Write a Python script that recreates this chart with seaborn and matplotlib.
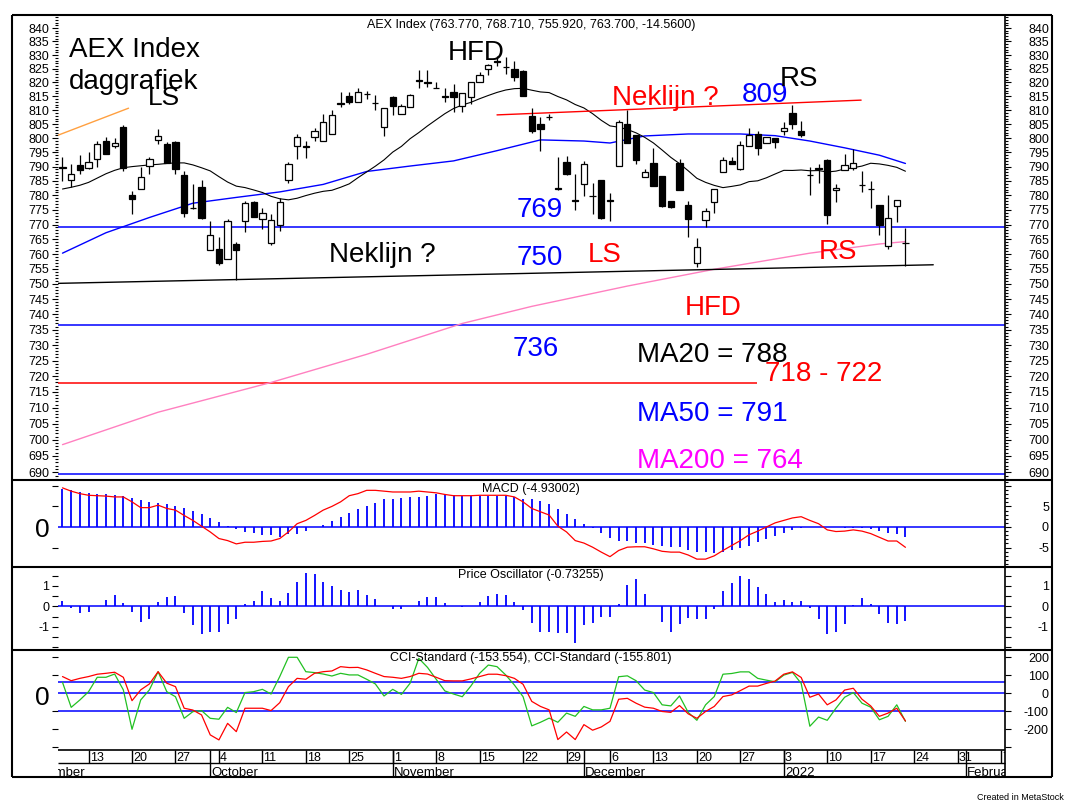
import numpy as np
import pandas as pd
import matplotlib
matplotlib.use("Agg")
import matplotlib.pyplot as plt
import seaborn as sns
from matplotlib.lines import Line2D
from matplotlib.ticker import FixedLocator, FixedFormatter, NullFormatter

# ---------------------------------------------------------------- data
dates = pd.bdate_range("2021-09-08", "2022-01-21")   # 98 trading days

opens = [790.0, 785.3, 790.6, 789.4, 792.6, 799.0, 797.1, 803.9, 780.0, 782.1,
         790.2, 799.4, 797.9, 798.7, 787.1, 775.8, 782.9, 761.5, 761.7, 758.3,
         763.3, 771.2, 777.6, 771.8, 763.7, 769.7, 785.2, 797.1, 797.2, 800.3,
         799.0, 801.5, 812.4, 815.2, 813.0, 815.9, 812.6, 803.9, 814.9, 808.5,
         811.0, 820.8, 820.0, 818.0, 815.1, 816.7, 811.6, 814.9, 820.3, 825.0,
         828.0, 825.8, 824.8, 824.2, 807.9, 805.0, 807.5, 782.5, 791.6, 778.4,
         783.8, 779.9, 785.2, 778.4, 790.2, 805.0, 801.0, 786.4, 791.4, 786.7,
         778.2, 791.1, 776.6, 757.0, 771.5, 777.6, 788.0, 791.8, 789.0, 797.3,
         801.5, 798.2, 800.0, 802.7, 809.0, 802.7, 787.2, 789.5, 792.2, 781.8,
         788.9, 789.6, 783.7, 782.3, 776.7, 762.6, 776.4, 763.77]
highs = [793.3, 791.0, 794.2, 795.3, 799.0, 800.6, 800.0, 804.8, 781.5, 790.0,
         793.3, 803.3, 798.5, 798.9, 788.4, 784.0, 785.3, 771.2, 765.8, 771.8,
         764.1, 778.2, 778.2, 775.8, 773.6, 779.0, 791.6, 801.5, 799.0, 803.5,
         808.7, 810.0, 816.4, 816.6, 817.8, 817.0, 815.5, 810.6, 815.0, 812.2,
         815.8, 824.5, 824.5, 820.3, 817.9, 819.5, 816.0, 820.1, 823.8, 826.9,
         829.6, 829.2, 827.8, 824.5, 810.6, 807.7, 808.7, 793.2, 793.8, 787.3,
         792.1, 784.4, 785.5, 780.8, 806.4, 810.0, 801.0, 789.0, 796.6, 786.7,
         778.2, 792.6, 778.2, 765.4, 775.8, 782.3, 793.5, 793.5, 799.0, 803.5,
         802.7, 800.6, 800.0, 805.7, 811.9, 806.1, 789.8, 790.9, 792.6, 784.1,
         794.4, 796.2, 788.4, 785.0, 776.7, 780.0, 778.4, 768.71]
lows = [785.0, 782.9, 787.3, 789.0, 790.0, 794.5, 796.5, 788.4, 773.6, 782.1,
        787.3, 798.1, 791.2, 787.3, 772.7, 775.4, 772.0, 761.5, 756.3, 758.3,
        751.3, 767.6, 772.4, 768.4, 763.2, 767.8, 784.4, 792.6, 793.0, 799.0,
        799.0, 801.5, 811.0, 812.2, 813.0, 814.0, 810.2, 800.9, 808.2, 808.5,
        811.0, 817.9, 818.3, 817.9, 812.8, 809.2, 809.2, 812.2, 820.3, 822.6,
        826.0, 823.2, 820.7, 815.2, 801.7, 795.6, 806.5, 782.0, 787.0, 774.8,
        779.7, 773.6, 772.0, 771.2, 790.2, 798.2, 791.0, 786.4, 783.2, 776.0,
        775.8, 782.0, 765.8, 755.5, 769.0, 773.9, 788.0, 790.8, 788.7, 797.3,
        794.0, 798.2, 796.6, 801.3, 803.3, 800.3, 780.2, 784.4, 770.3, 777.6,
        788.7, 788.7, 781.3, 775.8, 766.4, 761.8, 771.0, 755.92]
closes = [789.5, 787.3, 788.8, 791.5, 797.9, 794.5, 798.2, 789.6, 778.6, 786.4,
          792.6, 800.9, 791.4, 789.0, 773.8, 775.6, 772.1, 766.4, 757.0, 771.2,
          761.2, 777.3, 772.4, 773.9, 771.4, 777.6, 790.9, 800.6, 797.0, 802.7,
          805.7, 808.1, 812.2, 812.8, 816.4, 815.8, 812.4, 810.6, 811.6, 811.6,
          815.5, 820.6, 819.8, 817.9, 814.9, 814.6, 816.0, 820.1, 822.8, 826.3,
          827.6, 825.6, 822.0, 815.2, 802.7, 803.3, 807.7, 782.3, 787.3, 778.2,
          790.8, 779.7, 772.1, 778.2, 805.7, 798.2, 792.2, 788.0, 783.2, 776.4,
          776.0, 782.0, 771.8, 762.5, 774.6, 782.3, 792.2, 790.8, 797.6, 801.0,
          796.5, 800.6, 798.6, 803.7, 805.0, 801.3, 787.0, 789.3, 773.2, 782.5,
          790.6, 791.1, 783.5, 782.1, 769.9, 772.2, 778.4, 763.70]

# MA20 before enough history is shown, rest is computed
ma20_early = [782.2, 782.8, 783.5, 784.5, 786.0, 787.5, 788.7, 789.6, 790.0, 790.3,
              790.6, 790.8, 791.1, 791.3, 791.3, 790.6, 789.6, 788.5, 786.5]
ma50_idx = [0, 5, 10, 15, 20, 25, 30, 35, 40, 45, 50, 55, 60, 63, 67, 72, 78, 82, 86, 90, 94, 97]
ma50_val = [760.3, 767.2, 772.4, 777.3, 779.3, 781.2, 783.8, 788.3, 790.2, 792.0, 795.6,
            799.4, 799.0, 798.3, 800.8, 801.5, 801.5, 800.9, 799.0, 796.6, 794.0, 791.1]
ma200_idx = [0, 11, 24, 35, 46, 54, 65, 75, 86, 94, 97]
ma200_val = [698.5, 708.6, 718.0, 727.0, 737.0, 742.6, 749.3, 754.9, 760.3, 763.4, 764.2]

# drawn lines on the price chart
level_blue = [769.3, 736.6, 689.4]
level_red = 717.9
level_red_end = 79.9
neck_black_x, neck_black_y = [-0.58, 100.2], [750.2, 756.4]
neck_red_x, neck_red_y = [50.0, 91.9], [808.3, 813.6]
trend_orange_x, trend_orange_y = [-0.48, 7.6], [801.1, 810.7]

macd_line = [9.5, 8.7, 8.1, 7.7, 7.6, 7.5, 7.3, 7.3, 6.1, 4.7, 4.7, 5.3, 4.5, 4.1, 2.8,
             1.6, 0.2, -1.2, -2.8, -3.3, -4.1, -3.7, -3.7, -3.5, -3.4, -2.8, -1.2, 0.8,
             1.6, 2.8, 4.1, 5.0, 6.1, 7.6, 8.1, 8.9, 8.9, 8.7, 8.5, 8.5, 8.5, 8.7, 8.5,
             8.3, 7.9, 7.6, 7.6, 7.6, 7.7, 7.7, 7.7, 7.7, 7.3, 6.1, 4.5, 3.7, 2.9, 0.2,
             -1.2, -3.3, -3.9, -4.9, -6.1, -7.2, -5.7, -4.9, -4.8, -4.8, -5.3, -5.9,
             -6.1, -6.1, -6.8, -7.8, -7.8, -7.0, -5.7, -4.5, -3.3, -1.9, -1.0, 0.0, 1.0,
             1.6, 2.2, 2.5, 1.6, 0.8, -0.7, -1.1, -1.0, -0.7, -1.0, -1.6, -2.5, -3.4,
             -3.4, -4.93]
macd_bars = [9.2, 9.0, 8.5, 8.2, 8.0, 8.0, 7.8, 7.6, 7.1, 6.5, 6.1, 5.8, 5.5, 5.1, 4.6,
             3.8, 3.2, 2.2, 1.2, 0.2, -0.4, -1.2, -1.5, -1.9, -2.0, -2.4, -1.8, -1.6,
             -1.0, 0.0, 0.4, 1.4, 2.5, 3.4, 4.4, 5.0, 5.9, 6.7, 6.9, 7.1, 7.3, 7.3, 7.6,
             7.9, 7.9, 7.7, 7.6, 7.5, 7.6, 7.6, 7.6, 7.6, 7.2, 6.8, 6.8, 6.3, 5.6, 4.3,
             3.1, 1.9, 0.7, -0.2, -1.5, -2.7, -3.3, -3.5, -3.8, -3.8, -4.3, -4.6, -4.8,
             -4.9, -5.5, -6.0, -6.1, -6.3, -6.0, -5.7, -5.2, -4.5, -3.7, -3.0, -2.2,
             -1.5, -0.8, -0.2, 0.0, 0.0, 0.0, 0.0, -0.2, -0.2, -0.3, -0.6, -1.0, -1.5,
             -1.6, -2.5]
price_osc = [0.26, -0.1, -0.34, -0.26, 0.0, 0.3, 0.55, 0.16, -0.26, -0.75, -0.6, 0.23,
             0.46, 0.5, -0.31, -0.93, -1.37, -1.24, -1.24, -0.88, -0.6, 0.11, 0.26, 0.75,
             0.41, 0.26, 0.65, 1.19, 1.63, 1.56, 1.19, 0.99, 0.8, 0.7, 0.8, 0.55, 0.36,
             0.0, -0.15, -0.15, 0.0, 0.26, 0.46, 0.46, 0.16, 0.0, -0.05, 0.0, 0.21, 0.5,
             0.6, 0.55, 0.21, -0.2, -0.84, -1.26, -1.26, -1.3, -1.3, -1.79, -0.93, -0.84,
             -0.5, -0.5, 0.11, 1.05, 1.34, 0.6, 0.0, -0.75, -1.25, -0.89, -0.56, -0.6,
             -0.6, -0.15, 0.75, 1.15, 1.49, 1.34, 0.93, 0.6, 0.21, 0.31, 0.21, 0.26, -0.1,
             -0.64, -1.33, -1.25, -0.89, 0.07, 0.41, 0.11, -0.39, -0.84, -0.89, -0.73]
cci_red = [93, 70, 83, 93, 106, 111, 117, 89, -41, 19, 52, 120, 56, 37, -83, -93, -120,
           -231, -259, -167, -213, -83, -83, -83, -96, -52, 37, 83, 78, 111, 120, 124,
           148, 143, 144, 130, 111, 93, 89, 83, 93, 111, 107, 89, 70, 69, 69, 80, 93, 106,
           106, 98, 83, 50, -45, -73, -92, -257, -215, -257, -174, -205, -187, -156, -33,
           -28, -55, -77, -83, -101, -106, -68, -114, -139, -101, -73, -18, -9, 15, 40,
           40, 55, 68, 106, 119, 88, -22, -4, -64, -37, 18, 28, -33, -70, -128, -110,
           -83, -153.6]
cci_green = [61, -78, -37, 9, 89, 89, 107, 19, -200, -37, 19, 120, 9, -19, -139, -102,
             -96, -139, -144, -78, -107, 4, 9, 22, -4, 93, 200, 200, 120, 115, 107, 96,
             111, 102, 102, 78, 52, -15, 22, -6, 56, 194, 144, 78, 13, -4, -19, 41, 111,
             157, 148, 102, 46, -19, -181, -161, -138, -161, -110, -128, -73, -92, -92,
             -83, 92, 97, 70, 18, 4, -64, -70, -15, -106, -150, -64, -18, 106, 110, 119,
             119, 83, 73, 64, 101, 116, 55, -183, -132, -150, -83, -22, 4, -55, -77, -147,
             -128, -64, -155.8]
cci_levels = [61, 0, -100]

price_title = "AEX Index (763.770, 768.710, 755.920, 763.700, -14.5600)"
macd_title = "MACD (-4.93002)"
po_title = "Price Oscillator (-0.73255)"
cci_title = "CCI-Standard (-153.554), CCI-Standard (-155.801)"

n = len(dates)
for arr in (opens, highs, lows, closes, macd_line, macd_bars, price_osc, cci_red, cci_green):
    assert len(arr) == n, len(arr)

x = np.arange(n)
o, h, l, c = map(np.array, (opens, highs, lows, closes))
ma20 = pd.Series(c).rolling(20).mean().to_numpy()
ma20[:19] = ma20_early

# ---------------------------------------------------------------- style
sns.set_theme(style="white")
plt.rcParams["font.family"] = ["Liberation Sans", "DejaVu Sans"]

W, H = 1069, 808
fig = plt.figure(figsize=(W / 100, H / 100), dpi=100)
fig.patch.set_facecolor("white")

XL, XR = 57.5, 1005.3
XLIM = (-0.575, 108.49)
BLUE, RED, GREEN = "#0000FF", "#FF0000", "#22C022"


def add_ax(y0, y1):
    ax = fig.add_axes([XL / W, 1 - y1 / H, (XR - XL) / W, (y1 - y0) / H])
    ax.set_xlim(*XLIM)
    ax.set_facecolor("none")
    for s in ax.spines.values():
        s.set_visible(False)
    ax.grid(False)
    ax.set_xlabel("")
    ax.set_ylabel("")
    return ax


def style_left(ax, ticks, labels, minor=None):
    ax.yaxis.set_major_locator(FixedLocator(ticks))
    ax.yaxis.set_major_formatter(FixedFormatter(labels))
    ax.yaxis.set_minor_locator(FixedLocator(minor if minor is not None else []))
    ax.yaxis.set_minor_formatter(NullFormatter())
    ax.tick_params(axis="y", which="major", left=True, right=False, labelleft=True,
                   labelright=False, length=4, width=0.8, pad=1.8, labelsize=9,
                   colors="black", direction="out")
    ax.tick_params(axis="y", which="minor", left=True, right=False, length=2.2,
                   width=0.8, colors="black", direction="out")
    ax.tick_params(axis="x", which="both", bottom=False, top=False,
                   labelbottom=False, labeltop=False)


def style_right(ax, ticks, labels, minor=None, log=False):
    r = ax.twinx()
    if log:
        r.set_yscale("log")
    r.set_ylim(ax.get_ylim())
    for s in r.spines.values():
        s.set_visible(False)
    r.grid(False)
    r.yaxis.set_major_locator(FixedLocator(ticks))
    r.yaxis.set_major_formatter(FixedFormatter(labels))
    r.yaxis.set_minor_locator(FixedLocator(minor if minor is not None else []))
    r.yaxis.set_minor_formatter(NullFormatter())
    r.tick_params(axis="y", which="major", right=True, left=False, labelright=True,
                  labelleft=False, length=4, width=0.8, pad=27.4, labelsize=9,
                  colors="black", direction="out")
    r.tick_params(axis="y", which="minor", right=True, left=False, length=2.2,
                  width=0.8, colors="black", direction="out")
    for t in r.get_yticklabels():
        t.set_horizontalalignment("right")
    r.set_ylabel("")
    return r


def ftext(px, py, s, size, color, ha="left", va="baseline"):
    fig.text(px / W, 1 - py / H, s, fontsize=size, color=color, ha=ha, va=va)


def fline(x0, y0, x1, y1, lw=1.5, color="black"):
    fig.add_artist(Line2D([x0 / W, x1 / W], [1 - y0 / H, 1 - y1 / H],
                          transform=fig.transFigure, color=color, lw=lw,
                          solid_capstyle="butt", zorder=10))


# ---------------------------------------------------------------- price panel
axp = add_ax(15, 480)
axp.set_yscale("log")
axp.set_ylim(687.65, 844.85)

for lv in level_blue:
    axp.axhline(lv, color=BLUE, lw=1.1, zorder=1)
axp.hlines(level_red, XLIM[0], level_red_end, color=RED, lw=1.1, zorder=1)

sns.lineplot(x=ma200_idx, y=ma200_val, ax=axp, color="#FF80C0", linewidth=1.0,
             legend=False, zorder=2)
sns.lineplot(x=ma50_idx, y=ma50_val, ax=axp, color=BLUE, linewidth=1.0,
             legend=False, zorder=2)
sns.lineplot(x=x, y=ma20, ax=axp, color="black", linewidth=0.8, legend=False, zorder=2)

sns.lineplot(x=neck_black_x, y=neck_black_y, ax=axp, color="black", linewidth=1.0,
             legend=False, zorder=2)
sns.lineplot(x=neck_red_x, y=neck_red_y, ax=axp, color=RED, linewidth=1.0,
             legend=False, zorder=2)
sns.lineplot(x=trend_orange_x, y=trend_orange_y, ax=axp, color="#FFA040",
             linewidth=1.0, legend=False, zorder=2)

axp.vlines(x, l, h, color="black", lw=0.9, zorder=3)
body_col = ["white" if cc >= oo else "black" for oo, cc in zip(o, c)]
axp.bar(x, np.abs(c - o), bottom=np.minimum(o, c), width=0.72, color=body_col,
        edgecolor="black", linewidth=0.9, zorder=4)
axp.set_xlim(*XLIM)

p_ticks = list(range(690, 841, 5))
p_labels = [str(t) for t in p_ticks]
p_minor = [v for v in range(688, 845) if v % 5]
style_left(axp, p_ticks, p_labels, p_minor)
style_right(axp, p_ticks, p_labels, p_minor, log=True)

# ---------------------------------------------------------------- MACD
axm = add_ax(480, 566.5)
axm.set_ylim(-9.59, 11.41)
axm.axhline(0, color=BLUE, lw=1.1, zorder=1)
axm.vlines(x, 0, macd_bars, color=BLUE, lw=1.3, zorder=2)
sns.lineplot(x=x, y=macd_line, ax=axm, color=RED, linewidth=0.9, legend=False, zorder=3)
axm.set_xlim(*XLIM)
style_left(axm, [-5, 5, 10], ["", "", ""])
style_right(axm, [-5, 0, 5, 10], ["-5", "0", "5", ""], list(range(-9, 12)))

# ---------------------------------------------------------------- Price oscillator
axo = add_ax(566.5, 649.5)
axo.set_ylim(-2.11, 1.94)
axo.axhline(0, color=BLUE, lw=1.1, zorder=1)
axo.vlines(x, 0, price_osc, color=BLUE, lw=1.3, zorder=2)
axo.set_xlim(*XLIM)
po_ticks = [-2, -1.5, -1, -0.5, 0, 0.5, 1, 1.5]
po_labels = ["", "", "-1", "", "0", "", "1", ""]
style_left(axo, po_ticks, po_labels)
style_right(axo, po_ticks, po_labels)

# ---------------------------------------------------------------- CCI
axc = add_ax(649.5, 750)
axc.set_ylim(-315, 243.3)
for lv in cci_levels:
    axc.axhline(lv, color=BLUE, lw=1.1, zorder=1)
sns.lineplot(x=x, y=cci_green, ax=axc, color=GREEN, linewidth=0.9, legend=False, zorder=2)
sns.lineplot(x=x, y=cci_red, ax=axc, color=RED, linewidth=0.9, legend=False, zorder=3)
axc.set_xlim(*XLIM)
style_left(axc, [-300, -200, -100, 100, 200], [""] * 5)
style_right(axc, [-300, -200, -100, 0, 100, 200], ["", "-200", "-100", "0", "100", "200"])

# ---------------------------------------------------------------- date axis
axis_days = pd.bdate_range("2021-09-01", "2022-02-08")
start_pos = list(axis_days).index(dates[0])
pos = np.arange(len(axis_days)) - start_pos
month_names = {9: "September", 10: "October", 11: "November", 12: "December",
               1: "2022", 2: "February"}

axd = fig.add_axes([XL / W, 1 - 777.3 / H, (XR - XL) / W, (777.3 - 750) / H])
axd.set_xlim(*XLIM)
axd.set_ylim(777.3, 750)
axd.axis("off")
prev_month = None
for p, d in zip(pos, axis_days):
    if d.weekday() == 0:
        axd.vlines(p, 750, 763.3, color="black", lw=1.0)
        axd.text(p + 0.12, 761.3, str(d.day), fontsize=9, color="black",
                 ha="left", va="baseline", clip_on=True)
    if d.month != prev_month:
        axd.vlines(p, 750, 777.3, color="black", lw=1.0)
        axd.text(p + 0.12, 775.6, month_names[d.month], fontsize=9.5, color="black",
                 ha="left", va="baseline", clip_on=True)
        prev_month = d.month

# ---------------------------------------------------------------- frame
fline(11.5, 15, 1052, 15)
fline(11.5, 777.3, 1052, 777.3)
fline(11.5, 15, 11.5, 777.3)
fline(1052, 15, 1052, 777.3)
for yy in (480, 566.5, 649.5):
    fline(11.5, yy, 1052, yy)
fline(XR, 15, XR, 777.3, lw=1.2)
fline(XL, 750, XR, 750, lw=1.2)
fline(XL, 763.3, XR, 763.3, lw=1.0)

# ---------------------------------------------------------------- texts
ftext(531, 28.3, price_title, 9, "black", ha="center")
ftext(531, 491.5, macd_title, 9, "black", ha="center")
ftext(531, 578.3, po_title, 9, "black", ha="center")
ftext(531, 660.7, cci_title, 9, "black", ha="center")
ftext(42.5, 537.3, "0", 19, "black", ha="center")
ftext(42.5, 705, "0", 19, "black", ha="center")
ftext(1064, 800.5, "Created in MetaStock", 6.5, "black", ha="right")

annotations = [
    ("AEX Index", 69, 56.7, "black"), ("daggrafiek", 69, 89.3, "black"),
    ("HFD", 448, 60, "black"), ("Neklijn ?", 612, 105, RED),
    ("809", 742, 101.7, BLUE), ("RS", 780, 86, "black"),
    ("769", 517, 217, BLUE), ("Neklijn ?", 329, 262, "black"),
    ("750", 517, 265, BLUE), ("LS", 588, 262, RED), ("RS", 819, 259, RED),
    ("HFD", 685, 315, RED), ("736", 513, 356, BLUE),
    ("MA20 = 788", 637, 362, "black"), ("718 - 722", 765, 381, RED),
    ("MA50 = 791", 637, 421, BLUE), ("MA200 = 764", 637, 468, "#FF00FF"),
]
for s, px, py, col in annotations:
    ftext(px, py, s, 20, col)
ftext(148, 105, "LS", 19, "black")

fig.savefig("out.png", dpi=100, facecolor="white")
